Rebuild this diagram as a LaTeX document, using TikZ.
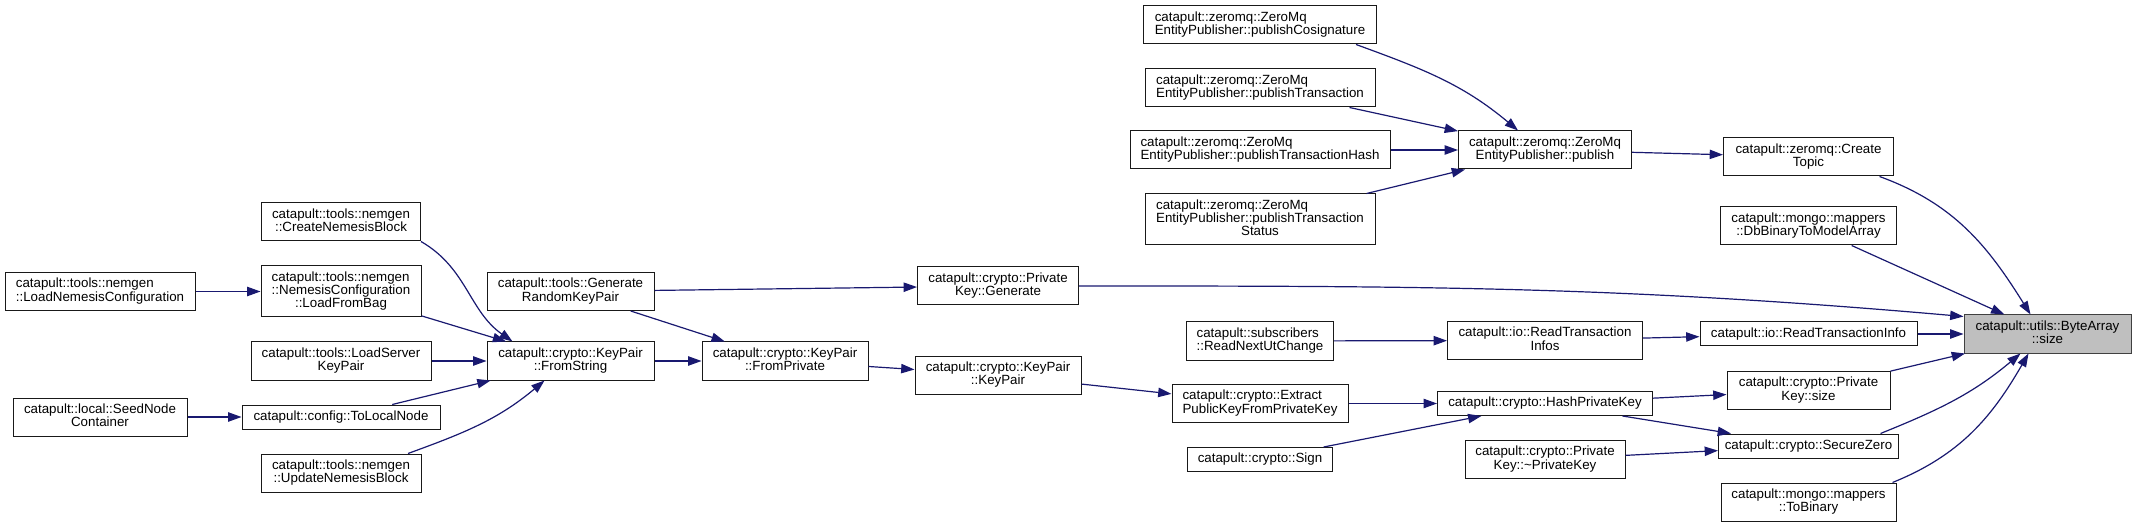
\documentclass[tikz,border=0pt]{standalone}
\usepackage{fontspec}
\setmainfont{Liberation Sans}
\usetikzlibrary{arrows.meta,calc}
\definecolor{edgeblue}{HTML}{191970}
\definecolor{selgray}{HTML}{BFBFBF}
\newcommand{\fnlabel}[2]{\begin{tabular}{@{}l@{}}#1\\\multicolumn{1}{@{}c@{}}{#2}\end{tabular}}
\newcommand{\fnone}[1]{\begin{tabular}{@{}c@{}}#1\end{tabular}}

\begin{document}
\begin{tikzpicture}[x=0.75pt,y=-0.75pt,
    fn/.style 2 args={draw=black!90,line width=0.75pt,fill=white,inner sep=0pt,
      minimum width=#1*0.75pt,minimum height=#2*0.75pt,
      font=\fontsize{10pt}{8.9pt}\selectfont},
    fnsel/.style 2 args={fn={#1}{#2},draw=black!75,fill=selgray},
    calls/.style={draw=edgeblue,line width=0.9pt,-{Triangle[length=10pt,width=7pt]}}]
  \useasboundingbox (0,0) rectangle (2135,527);

  \node[fn={190}{38}] (lnc) at (100,291.5) {\fnlabel{catapult::tools::nemgen}{::LoadNemesisConfiguration}};
  \node[fn={174}{38}] (snc) at (100,417) {\fnlabel{catapult::local::SeedNode}{Container}};

  \node[fn={159}{38}] (cnb) at (341,222) {\fnlabel{catapult::tools::nemgen}{::CreateNemesisBlock}};
  \node[fn={160}{51}] (lfb) at (341,291.5) {\fnlabel{catapult::tools::nemgen\\::NemesisConfiguration}{::LoadFromBag}};
  \node[fn={180}{38}] (lskp) at (341,361) {\fnlabel{catapult::tools::LoadServer}{KeyPair}};
  \node[fn={198}{24}] (tln) at (341,417) {\fnone{catapult::config::ToLocalNode}};
  \node[fn={160}{38}] (unb) at (341,473) {\fnlabel{catapult::tools::nemgen}{::UpdateNemesisBlock}};

  \node[fn={167}{38}] (genrkp) at (570.5,291.5) {\fnlabel{catapult::tools::Generate}{RandomKeyPair}};
  \node[fn={167}{38}] (fstring) at (570.5,361) {\fnlabel{catapult::crypto::KeyPair}{::FromString}};

  \node[fn={166}{38}] (fprivate) at (785,361) {\fnlabel{catapult::crypto::KeyPair}{::FromPrivate}};

  \node[fn={161}{38}] (pkgen) at (998,286) {\fnlabel{catapult::crypto::Private}{Key::Generate}};
  \node[fn={166}{38}] (kpkp) at (998,375) {\fnlabel{catapult::crypto::KeyPair}{::KeyPair}};

  \node[fn={233}{38}] (cosig) at (1260,25) {\fnlabel{catapult::zeromq::ZeroMq}{EntityPublisher::publishCosignature}};
  \node[fn={230}{38}] (ptx) at (1260,88) {\fnlabel{catapult::zeromq::ZeroMq}{EntityPublisher::publishTransaction}};
  \node[fn={260}{38}] (phash) at (1260,150) {\fnlabel{catapult::zeromq::ZeroMq}{EntityPublisher::publishTransactionHash}};
  \node[fn={230}{51}] (pstat) at (1260,219.5) {\fnlabel{catapult::zeromq::ZeroMq\\EntityPublisher::publishTransaction}{Status}};
  \node[fn={147}{38}] (rnut) at (1260,341) {\fnlabel{catapult::subscribers}{::ReadNextUtChange}};
  \node[fn={176}{38}] (extract) at (1260,403.5) {\fnlabel{catapult::crypto::Extract}{PublicKeyFromPrivateKey}};
  \node[fn={145}{24}] (sign) at (1260,459.5) {\fnone{catapult::crypto::Sign}};

  \node[fn={173}{38}] (publish) at (1545,150) {\fnlabel{catapult::zeromq::ZeroMq}{EntityPublisher::publish}};
  \node[fn={195}{38}] (rtinfos) at (1545,340.5) {\fnlabel{catapult::io::ReadTransaction}{Infos}};
  \node[fn={215}{24}] (hpk) at (1545,403.5) {\fnone{catapult::crypto::HashPrivateKey}};
  \node[fn={160}{38}] (dpk) at (1545,459.5) {\fnlabel{catapult::crypto::Private}{Key::\textasciitilde PrivateKey}};

  \node[fn={170}{38}] (topic) at (1808.5,157) {\fnlabel{catapult::zeromq::Create}{Topic}};
  \node[fn={176}{38}] (dbbin) at (1808.5,226) {\fnlabel{catapult::mongo::mappers}{::DbBinaryToModelArray}};
  \node[fn={217}{24}] (rtinfo) at (1808.5,334) {\fnone{catapult::io::ReadTransactionInfo}};
  \node[fn={163}{38}] (pksize) at (1808.5,390.5) {\fnlabel{catapult::crypto::Private}{Key::size}};
  \node[fn={180}{24}] (szero) at (1808.5,446) {\fnone{catapult::crypto::SecureZero}};
  \node[fn={175}{38}] (tobin) at (1808.5,502) {\fnlabel{catapult::mongo::mappers}{::ToBinary}};

  \node[fnsel={167}{38}] (bsize) at (2047.5,334) {\fnlabel{catapult::utils::ByteArray}{::size}};

  \path[every edge/.style={calls}]
    (lnc) edge (lfb)
    (snc) edge (tln)
    (cnb.south east) edge[out=-30,in=145] ($(fstring.north west)+(26,0)$)
    (lfb) edge (fstring)
    (lskp) edge (fstring)
    (tln) edge (fstring)
    ($(unb.north)+(67,0)$) edge[out=20,in=-140] ($(fstring.south)+(-26,0)$)
    (genrkp) edge (pkgen)
    (genrkp) edge (fprivate)
    (fstring) edge (fprivate)
    (fprivate) edge (kpkp)
    (kpkp) edge (extract)
    (extract) edge (hpk)
    (sign) edge (hpk)
    (hpk) edge (pksize)
    (hpk) edge (szero)
    (dpk) edge (szero)
    (rnut) edge (rtinfos)
    (rtinfos) edge (rtinfo)
    ($(cosig.south)+(96,0)$) edge[out=-20,in=140] ($(publish.north)+(-27,0)$)
    (ptx) edge (publish)
    (phash) edge (publish)
    (pstat) edge (publish)
    (publish) edge (topic)
    ($(topic.south)+(71,0)$) edge[out=-20,in=122] ($(bsize.north)+(-17,0)$)
    (dbbin) edge (bsize)
    (pkgen.east) edge[out=0,in=175] ($(bsize.north west)+(0,2)$)
    (rtinfo) edge (bsize)
    (pksize) edge (bsize)
    ($(szero.north)+(72,0)$) edge[out=22,in=-140] ($(bsize.south)+(-27,0)$)
    ($(tobin.north)+(84,0)$) edge[out=22,in=-120] ($(bsize.south)+(-19,0)$);
\end{tikzpicture}
\end{document}
